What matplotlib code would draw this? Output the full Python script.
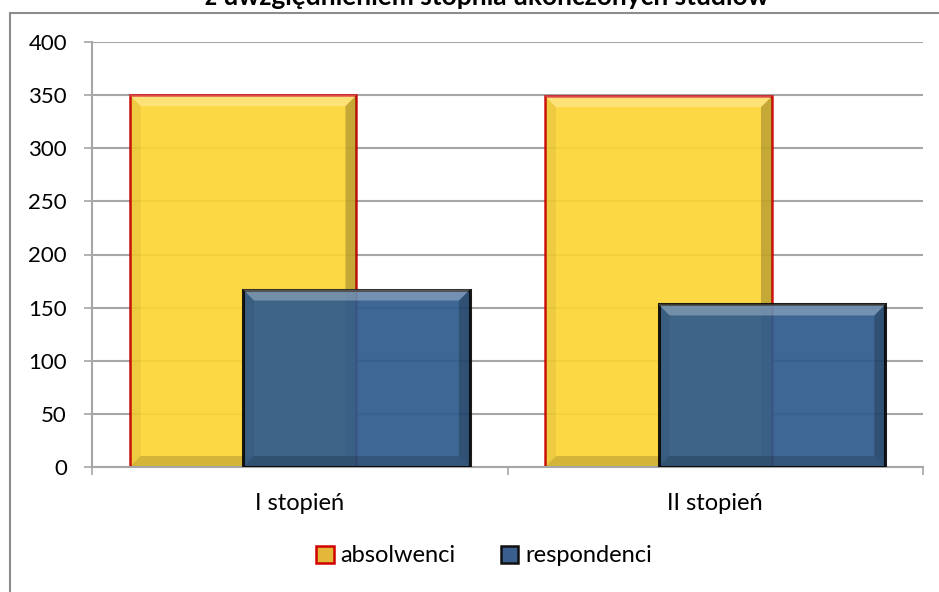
import numpy as np
import matplotlib.pyplot as plt
from matplotlib.lines import Line2D
from matplotlib.patches import Patch, Polygon

categories = ["I stopień", "II stopień"]
absolwenci = [350, 349]
respondenci = [167, 153]
series_names = ["absolwenci", "respondenci"]
title = "z uwzględnieniem stopnia ukończonych studiów"

plt.rcParams['font.family'] = ['Lato', 'DejaVu Sans']

fig = plt.figure(figsize=(9.39, 5.92), dpi=100)
ax = fig.add_axes([92 / 939, 1 - 467 / 592, (923 - 92) / 939, (467 - 42) / 592])

x = np.arange(len(categories))
w = 0.546
off = w / 4

ax.set_axisbelow(True)
ax.yaxis.grid(True, color="#a6a6a6", linewidth=1.5)

bars1 = ax.bar(x - off, absolwenci, w, color="#fdd535", edgecolor="#d00000",
               linewidth=1.8, alpha=0.92, zorder=2)
bars2 = ax.bar(x + off, respondenci, w, color="#2f5b8d", edgecolor="#0a0a0a",
               linewidth=2.2, alpha=0.93, zorder=3)

ax.set_xlim(-0.5, 1.5)
ax.set_ylim(0, 400)


def bevel(bar, z, b=11):
    # light top edge, dark right and bottom edges, in pixels
    inv = ax.transData.inverted()
    x0, y0 = ax.transData.transform((bar.get_x(), bar.get_y()))
    x1, y1 = ax.transData.transform((bar.get_x() + bar.get_width(), bar.get_y() + bar.get_height()))
    parts = [
        ([(x0, y1), (x1, y1), (x1 - b, y1 - b), (x0 + b, y1 - b)], "white", 0.28),
        ([(x1, y1), (x1, y0), (x1 - b, y0 + b), (x1 - b, y1 - b)], "black", 0.22),
        ([(x0, y0), (x1, y0), (x1 - b, y0 + b), (x0 + b, y0 + b)], "black", 0.16),
        ([(x0, y0), (x0, y1), (x0 + b, y1 - b), (x0 + b, y0 + b)], "black", 0.06),
    ]
    for pts, c, a in parts:
        ax.add_patch(Polygon(inv.transform(pts), closed=True, facecolor=c,
                             alpha=a, edgecolor="none", zorder=z))


for bar in bars1:
    bevel(bar, 2.5)
for bar in bars2:
    bevel(bar, 3.5)

ax.set_yticks(range(0, 401, 50))
ax.set_xticks([-0.5, 0.5, 1.5], minor=False)
ax.set_xticklabels([])
ax.set_xticks(x, minor=True)
ax.set_xticklabels(categories, minor=True)
ax.tick_params(axis="x", which="minor", length=0, pad=19, labelsize=17)
ax.tick_params(axis="x", which="major", length=6, width=1.2, color="#a6a6a6")
ax.tick_params(axis="y", length=6, width=1.2, color="#a6a6a6", pad=12, labelsize=16)

for s in ["top", "right"]:
    ax.spines[s].set_visible(False)
for s in ["left", "bottom"]:
    ax.spines[s].set_color("#a6a6a6")
    ax.spines[s].set_linewidth(1.5)

# chart frame
fig.add_artist(Line2D([10 / 939, 1], [1 - 13 / 592] * 2, color="#8c8c8c", linewidth=1.5))
fig.add_artist(Line2D([10 / 939] * 2, [0, 1 - 13 / 592], color="#8c8c8c", linewidth=1.5))

fig.text(487 / 939, 1 - 5 / 592, title, ha="center", va="baseline",
         fontsize=19, fontweight="bold")

handles = [Patch(facecolor="#e3b83a", edgecolor="#d00000", linewidth=1.8),
           Patch(facecolor="#3a5f8f", edgecolor="#101010", linewidth=1.8)]
fig.legend(handles, series_names, loc="center", bbox_to_anchor=(484 / 939, 1 - 556 / 592),
           ncol=2, frameon=False, fontsize=17, handlelength=0.75, handleheight=0.75,
           handletextpad=0.3, columnspacing=1.9)

fig.savefig("out.png", dpi=100)
